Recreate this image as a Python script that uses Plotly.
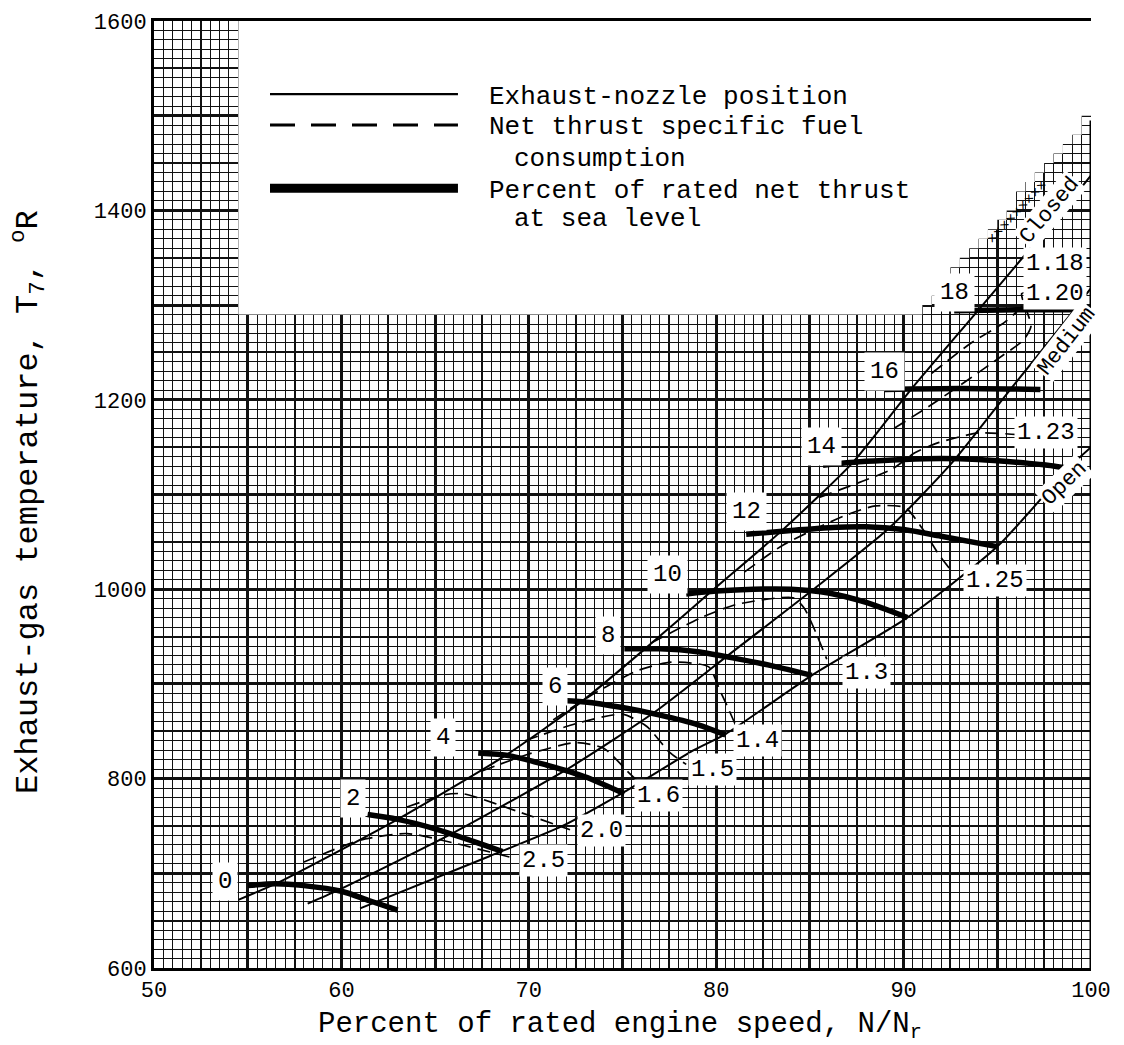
import plotly.graph_objects as go

FONT = "Liberation Mono"

# ---------------- data ----------------
# Exhaust-nozzle position lines (thin solid)
closed_x = [54.5, 56.5, 63.0, 68.8, 72.8, 76.2, 79.7, 83.4, 87.3, 90.4, 94.0, 98.9, 100.0]
closed_T = [672, 689, 757, 825, 881, 937, 997, 1060, 1134, 1211, 1295, 1410, 1437]
medium_x = [58.2, 59.8, 66.0, 72.3, 76.7, 80.75, 85.2, 89.2, 92.6, 95.7, 98.9, 100.0]
medium_T = [668, 682, 743, 813, 870, 932, 1000, 1064, 1134, 1211, 1290, 1318]
open_x = [61.0, 67.9, 71.8, 75.1, 78.8, 80.5, 85.1, 90.2, 95.0, 98.9, 100.0]
open_T = [663, 718, 750, 786, 830, 847, 909, 970, 1045, 1130, 1150]

# Percent of rated net thrust at sea level (thick)
thrust_levels = ["0", "2", "4", "6", "8", "10", "12", "14", "16", "18"]
t0_x = [55.0, 56.5, 58.0, 60.0, 61.5, 63.0];        t0_T = [687, 689, 687, 681, 671, 661]
t2_x = [61.4, 63.0, 65.0, 67.0, 68.6];              t2_T = [762, 757, 747, 734, 723]
t4_x = [67.3, 69.0, 71.0, 73.0, 75.1];              t4_T = [827, 824, 814, 802, 784]
t6_x = [71.2, 73.0, 75.0, 77.0, 79.0, 80.5];        t6_T = [883, 881, 875, 867, 857, 846]
t8_x = [75.1, 77.0, 79.0, 81.0, 83.0, 85.1];        t8_T = [937, 937, 934, 927, 919, 909]
t10_x = [78.4, 80.0, 82.0, 84.0, 86.0, 88.0, 90.2]; t10_T = [995, 998, 1000, 1000, 996, 986, 970]
t12_x = [81.6, 84.0, 86.0, 88.0, 90.0, 92.0, 95.0]; t12_T = [1058, 1062, 1065, 1066, 1063, 1056, 1045]
t14_x = [85.7, 88.0, 90.0, 92.0, 94.0, 96.0, 98.0, 100.0]
t14_T = [1131, 1135, 1137, 1138, 1137, 1134, 1130, 1123]
t16_x = [89.0, 93.0, 97.3];                         t16_T = [1211, 1212, 1211]
t18_x = [92.7, 96.0, 100.0];                        t18_T = [1294, 1295, 1295]
thrust_x = [t0_x, t2_x, t4_x, t6_x, t8_x, t10_x, t12_x, t14_x, t16_x, t18_x]
thrust_T = [t0_T, t2_T, t4_T, t6_T, t8_T, t10_T, t12_T, t14_T, t16_T, t18_T]
thrust_label_x = [53.8, 60.6, 65.4, 71.4, 74.2, 77.4, 81.6, 85.6, 89.0, 92.7]
thrust_label_T = [691, 779, 843, 897, 951, 1016, 1082, 1151, 1230, 1313]

# Net thrust specific fuel consumption (dashed)
sfc_levels = ["2.5", "2.0", "1.6", "1.5", "1.4", "1.3", "1.25", "1.23", "1.20", "1.18"]
s25_x = [58.0, 61.0, 63.5, 66.0, 69.2];             s25_T = [712, 735, 742, 732, 716]
s20_x = [63.5, 65.5, 66.5, 69.6, 72.2];             s20_T = [770, 783, 784, 764, 746]
s16_x = [67.5, 70.0, 72.5, 74.0, 75.4, 76.2];       s16_T = [808, 826, 838, 832, 805, 790]
s15_x = [69.8, 72.5, 75.0, 76.3, 77.5, 78.4];       s15_T = [840, 858, 868, 855, 828, 815]
s14_x = [71.3, 73.5, 75.8, 77.6, 79.6, 80.2, 80.6, 81.0]
s14_T = [862, 890, 914, 923, 918, 893, 876, 858]
s13_x = [76.5, 79.2, 81.1, 84.1, 84.7, 85.3, 85.9];  s13_T = [943, 970, 984, 991, 980, 955, 926]
s125_x = [81.5, 83.6, 86.9, 88.5, 90.1, 91.0, 91.9, 92.6]
s125_T = [1018, 1047, 1078, 1088, 1086, 1064, 1036, 1018]
s123_x = [85.5, 89.4, 90.6, 91.9, 94.0, 96.2];      s123_T = [1097, 1127, 1144, 1155, 1165, 1163]
s120_x = [89.5, 91.5, 93.5, 95.3, 96.4, 96.8, 96.3, 96.7]
s120_T = [1170, 1195, 1222, 1247, 1263, 1278, 1312, 1314]
s118_x = [91.5, 93.6, 95.4, 96.6, 97.1];            s118_T = [1228, 1260, 1282, 1305, 1336]
sfc_x = [s25_x, s20_x, s16_x, s15_x, s14_x, s13_x, s125_x, s123_x, s120_x, s118_x]
sfc_T = [s25_T, s20_T, s16_T, s15_T, s14_T, s13_T, s125_T, s123_T, s120_T, s118_T]
sfc_label_x = [70.8, 73.9, 76.9, 79.8, 82.2, 88.0, 94.9, 97.6, 98.1, 98.1]
sfc_label_T = [714, 745, 782, 810, 840, 912, 1009, 1165, 1312, 1344]

# nozzle-position labels
nozzle_names = ["Closed", "Medium", "Open"]
nozzle_label_x = [97.8, 98.7, 98.6]
nozzle_label_T = [1400, 1262, 1112]
nozzle_label_angle = [-50, -52, -44]

x_labels = list(range(50, 101, 10))
y_labels = list(range(600, 1601, 200))

# ---------------- figure ----------------
fig = go.Figure()

# empty traces so the overlaid grid axes (heavier rulings) are drawn
fig.add_trace(go.Scatter(x=[None], y=[None], xaxis="x2", yaxis="y2", showlegend=False, hoverinfo="skip"))
fig.add_trace(go.Scatter(x=[None], y=[None], xaxis="x3", yaxis="y3", showlegend=False, hoverinfo="skip"))

for xs, ts in zip([closed_x, medium_x, open_x], [closed_T, medium_T, open_T]):
    fig.add_trace(go.Scatter(x=xs, y=ts, mode="lines", showlegend=False,
                             line=dict(color="black", width=2, shape="spline", smoothing=0.6)))

for xs, ts in zip(sfc_x, sfc_T):
    fig.add_trace(go.Scatter(x=xs, y=ts, mode="lines", showlegend=False,
                             line=dict(color="black", width=1.7, dash="13px,7px",
                                       shape="spline", smoothing=0.6)))

for xs, ts in zip(thrust_x, thrust_T):
    fig.add_trace(go.Scatter(x=xs, y=ts, mode="lines", showlegend=False,
                             line=dict(color="black", width=5.5, shape="spline", smoothing=0.8)))

annotations = []
for txt, lx, lt in zip(thrust_levels, thrust_label_x, thrust_label_T):
    annotations.append(dict(x=lx, y=lt, xref="x", yref="y", text=txt, showarrow=False,
                            font=dict(family=FONT, size=24, color="black"),
                            bgcolor="white", borderpad=5))
for txt, lx, lt in zip(sfc_levels, sfc_label_x, sfc_label_T):
    annotations.append(dict(x=lx, y=lt, xref="x", yref="y", text=txt, showarrow=False,
                            font=dict(family=FONT, size=24, color="black"),
                            bgcolor="white", borderpad=2))
for txt, lx, lt, ang in zip(nozzle_names, nozzle_label_x, nozzle_label_T, nozzle_label_angle):
    annotations.append(dict(x=lx, y=lt, xref="x", yref="y", text=txt, showarrow=False,
                            textangle=ang, font=dict(family=FONT, size=22, color="black"),
                            bgcolor="white", borderpad=1))
annotations.append(dict(x=96.1, y=1398, xref="x", yref="y", text="×××××××××", showarrow=False,
                        textangle=-47, font=dict(family=FONT, size=15, color="black")))

# legend (drawn manually, like the typed key of the original)
leg_lines = [("Exhaust-nozzle position", 0.9195, 0.3554),
             ("Net thrust specific fuel", 0.8882, 0.3554),
             ("consumption", 0.8548, 0.382),
             ("Percent of rated net thrust", 0.8203, 0.3554),
             ("at sea level", 0.7910, 0.382)]
for txt, yy, xx in leg_lines:
    annotations.append(dict(x=xx, y=yy, xref="paper", yref="paper", text=txt, showarrow=False,
                            xanchor="left", yanchor="middle",
                            font=dict(family=FONT, size=26, color="black")))

# axis titles
annotations.append(dict(x=0.497, y=-0.0615, xref="paper", yref="paper",
                        text="Percent of rated engine speed, N/N<sub>r</sub>",
                        showarrow=False, xanchor="center", yanchor="middle",
                        font=dict(family=FONT, size=29, color="black")))
annotations.append(dict(x=-0.1345, y=0.492, xref="paper", yref="paper",
                        text="Exhaust-gas temperature, T<sub>7</sub>, <sup>o</sup>R",
                        showarrow=False, textangle=-90, xanchor="center", yanchor="middle",
                        font=dict(family=FONT, size=32, color="black")))

# white legend area with stepped edge near the "Closed" line
stairs = "M 54.5,1600 L 54.5,1290 L 91,1290"
for i in range(1, 19):
    xs_ = 91.0 + 0.5 * i
    t_new = 1290 + round(22.8 * (xs_ - 91.0) / 10.0) * 10
    stairs += f" L {xs_ - 0.5},{t_new} L {xs_},{t_new}"
stairs += " L 100,1600 Z"

shapes = [
    dict(type="path", path=stairs, xref="x", yref="y", fillcolor="white",
         line=dict(width=0), layer="between"),
    dict(type="line", xref="paper", yref="paper", x0=0.1238, x1=0.3244, y0=0.9227, y1=0.9227,
         line=dict(color="black", width=2.2)),
    dict(type="line", xref="paper", yref="paper", x0=0.1238, x1=0.3244, y0=0.8903, y1=0.8903,
         line=dict(color="black", width=3, dash="25px,16px")),
    dict(type="line", xref="paper", yref="paper", x0=0.1238, x1=0.3244, y0=0.8234, y1=0.8234,
         line=dict(color="black", width=9)),
    dict(type="line", xref="x", yref="y", x0=100, x1=100, y0=600, y1=1495,
         line=dict(color="black", width=3), layer="above"),
]

GRIDC = "#111111"
common_overlay = dict(showticklabels=False, zeroline=False, showline=False, ticks="")
fig.update_layout(
    width=1124, height=1045,
    margin=dict(l=154, r=33, t=11, b=77),
    paper_bgcolor="white", plot_bgcolor="white",
    showlegend=False,
    xaxis=dict(range=[50, 100], tickmode="array", tickvals=x_labels,
               showgrid=True, gridcolor=GRIDC, gridwidth=3,
               minor=dict(dtick=0.5, tick0=50, showgrid=True, gridcolor=GRIDC, gridwidth=1.2, ticks=""),
               showline=True, linecolor="black", linewidth=3, mirror=True,
               ticks="", zeroline=False,
               tickfont=dict(family=FONT, size=22, color="black")),
    yaxis=dict(range=[600, 1600], tickmode="array", tickvals=y_labels,
               showgrid=True, gridcolor=GRIDC, gridwidth=3,
               minor=dict(dtick=10, tick0=600, showgrid=True, gridcolor=GRIDC, gridwidth=1.2, ticks=""),
               showline=True, linecolor="black", linewidth=3, mirror=False,
               ticks="", zeroline=False,
               tickfont=dict(family=FONT, size=22, color="black")),
    xaxis2=dict(range=[50, 100], overlaying="x", anchor="y", dtick=5, tick0=50,
                showgrid=True, gridcolor=GRIDC, gridwidth=3, **common_overlay),
    yaxis2=dict(range=[600, 1600], overlaying="y", anchor="x", dtick=100, tick0=600,
                showgrid=True, gridcolor=GRIDC, gridwidth=3, **common_overlay),
    xaxis3=dict(range=[50, 100], overlaying="x", anchor="y", dtick=2.5, tick0=50,
                showgrid=True, gridcolor=GRIDC, gridwidth=2, **common_overlay),
    yaxis3=dict(range=[600, 1600], overlaying="y", anchor="x", dtick=50, tick0=600,
                showgrid=True, gridcolor=GRIDC, gridwidth=2, **common_overlay),
    annotations=annotations,
    shapes=shapes,
)

fig.write_html("out.html")
